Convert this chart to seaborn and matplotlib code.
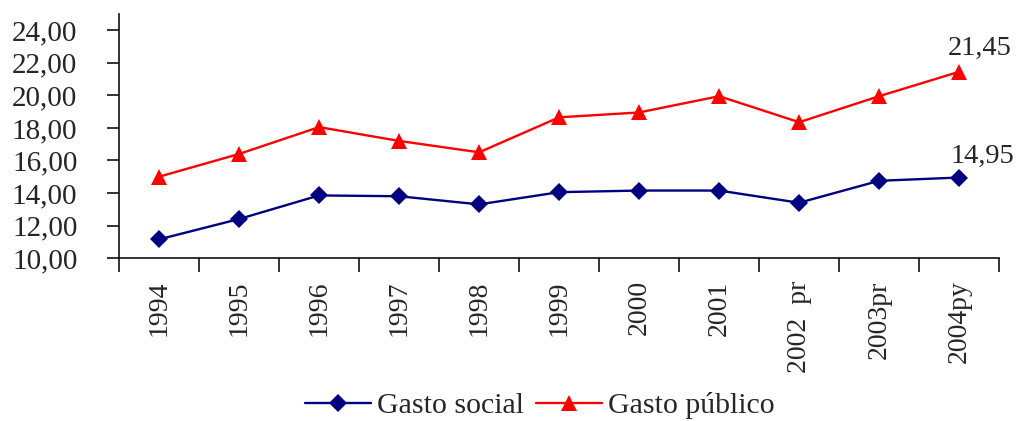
import matplotlib
matplotlib.use("Agg")
import matplotlib.pyplot as plt
from matplotlib.ticker import FixedLocator, NullFormatter, FuncFormatter
import seaborn as sns
import pandas as pd
import numpy as np

years = ["1994", "1995", "1996", "1997", "1998", "1999", "2000", "2001",
         "2002  pr", "2003pr", "2004py"]
gasto_social = [11.15, 12.40, 13.85, 13.80, 13.30, 14.05, 14.15, 14.15, 13.40, 14.75, 14.95]
gasto_publico = [15.00, 16.40, 18.05, 17.20, 16.50, 18.65, 18.95, 19.95, 18.35, 19.95, 21.45]
y_ticks = [10, 12, 14, 16, 18, 20, 22, 24]

sns.set_theme(style="white")
plt.rcParams["font.family"] = ["Liberation Serif", "DejaVu Serif"]

pos = np.arange(len(years))
df = pd.DataFrame({"pos": np.concatenate([pos, pos]),
                   "valor": gasto_social + gasto_publico,
                   "serie": ["Gasto social"] * len(years) + ["Gasto público"] * len(years)})

fig = plt.figure(figsize=(10.21, 4.21), dpi=100)
ax = fig.add_axes([0.1166, 0.387, 0.862, 0.5797])

sns.lineplot(data=df, x="pos", y="valor", hue="serie", style="serie",
             palette={"Gasto social": "#000080", "Gasto público": "#FF0000"},
             markers={"Gasto social": "D", "Gasto público": "^"},
             dashes=False, sort=False, linewidth=1.7, markersize=9,
             markeredgewidth=0, ax=ax)
for line in ax.lines:
    if line.get_marker() == "^":
        line.set_markersize(11)

ax.set_xlim(-0.5, len(years) - 0.5)
ax.set_ylim(10, 25)
ax.set_xlabel("")
ax.set_ylabel("")

for side in ("top", "right"):
    ax.spines[side].set_visible(False)
for side in ("left", "bottom"):
    ax.spines[side].set_color("#111111")
    ax.spines[side].set_linewidth(1.2)

ax.set_yticks(y_ticks)
ax.yaxis.set_major_formatter(FuncFormatter(lambda v, p: f"{v:.2f}".replace(".", ",")))
ax.tick_params(axis="y", which="major", direction="out", length=9, width=1.2,
               color="#111111", labelsize=21, pad=21, left=True)

ax.set_xticks(pos)
ax.set_xticklabels(years, rotation=90, fontsize=20)
ax.tick_params(axis="x", which="major", length=0, pad=16)
ax.xaxis.set_minor_locator(FixedLocator(np.arange(-0.5, len(years), 1.0)))
ax.xaxis.set_minor_formatter(NullFormatter())
ax.tick_params(axis="x", which="minor", direction="out", length=10, width=1.2,
               color="#111111", bottom=True)

ax.annotate("21,45", (pos[-1], gasto_publico[-1]), xytext=(-8, 8),
            textcoords="offset points", fontsize=20.5, ha="left", va="bottom",
            annotation_clip=False)
ax.annotate("14,95", (pos[-1], gasto_social[-1]), xytext=(-6, 6),
            textcoords="offset points", fontsize=20.5, ha="left", va="bottom",
            annotation_clip=False)

handles, labels = ax.get_legend_handles_labels()
ax.legend(handles, labels, loc="center", bbox_to_anchor=(0.478, -0.605), ncol=2,
          frameon=False, fontsize=21.5, handlelength=2.2, handletextpad=0.2,
          columnspacing=0.4)

fig.savefig("out.png", dpi=100)
